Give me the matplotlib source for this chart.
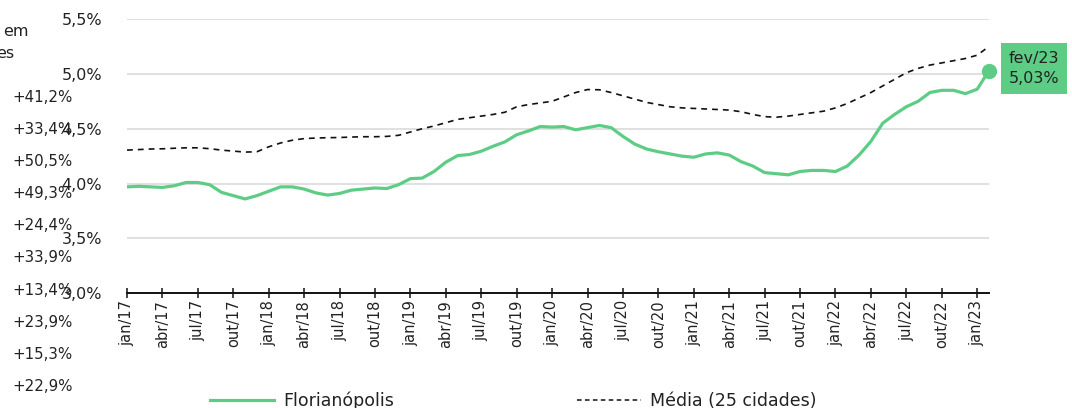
import matplotlib
matplotlib.use("Agg")
import matplotlib.pyplot as plt
from matplotlib.lines import Line2D

# ---- data (monthly, jan/17 .. fev/23) ----
months_pt = ['jan', 'fev', 'mar', 'abr', 'mai', 'jun',
             'jul', 'ago', 'set', 'out', 'nov', 'dez']
start_year = 17
floripa = [3.97, 3.975, 3.97, 3.965, 3.98, 4.01, 4.01, 3.99, 3.92, 3.89, 3.86, 3.89,
           3.93, 3.97, 3.97, 3.95, 3.915, 3.895, 3.91, 3.94, 3.95, 3.96, 3.955, 3.99,
           4.045, 4.05, 4.11, 4.195, 4.255, 4.265, 4.295, 4.34, 4.38, 4.445, 4.48, 4.52,
           4.515, 4.52, 4.49, 4.51, 4.53, 4.51, 4.43, 4.36, 4.315, 4.29, 4.27, 4.25,
           4.24, 4.27, 4.28, 4.26, 4.20, 4.16, 4.10, 4.09, 4.08, 4.11, 4.12, 4.12,
           4.11, 4.16, 4.26, 4.385, 4.55, 4.63, 4.70, 4.75, 4.83, 4.85, 4.85, 4.82,
           4.86, 5.03]
media = [4.305, 4.31, 4.315, 4.317, 4.322, 4.326, 4.326, 4.318, 4.305, 4.296, 4.287, 4.29,
         4.335, 4.37, 4.395, 4.41, 4.415, 4.418, 4.42, 4.424, 4.427, 4.427, 4.43, 4.44,
         4.47, 4.50, 4.525, 4.555, 4.585, 4.60, 4.615, 4.63, 4.65, 4.70, 4.72, 4.735,
         4.75, 4.79, 4.83, 4.857, 4.855, 4.83, 4.80, 4.77, 4.74, 4.72, 4.70, 4.69,
         4.685, 4.68, 4.675, 4.67, 4.655, 4.63, 4.61, 4.605, 4.615, 4.63, 4.645, 4.66,
         4.69, 4.73, 4.78, 4.83, 4.89, 4.95, 5.01, 5.05, 5.08, 5.10, 5.12, 5.14,
         5.17, 5.25]
yticks = [3.0, 3.5, 4.0, 4.5, 5.0, 5.5]
side_labels = ['+41,2%', '+33,4%', '+50,5%', '+49,3%', '+24,4%',
               '+33,9%', '+13,4%', '+23,9%', '+15,3%', '+22,9%']
last_label = 'fev/23\n5,03%'

GREEN = '#5dcd85'
TXT = '#222222'
plt.rcParams['font.family'] = ['DejaVu Sans']

x = list(range(len(floripa)))
fig = plt.figure(figsize=(10.72, 4.08), dpi=100)
ax = fig.add_axes([127 / 1072, 1 - 293.3 / 408, (989 - 127) / 1072, (293.3 - 19) / 408])

ax.plot(x, media, color='#111111', lw=1.2, linestyle=(0, (3.5, 3)))
ax.plot(x, floripa, color=GREEN, lw=2.3, solid_capstyle='round')
ax.plot(x[-1], floripa[-1], 'o', color=GREEN, ms=10, clip_on=False, zorder=5)

ax.annotate(last_label, xy=(x[-1], floripa[-1]), xytext=(32.4, 1.5),
            textcoords='offset points', ha='center', va='center',
            fontsize=11.5, color=TXT, linespacing=1.4,
            bbox=dict(boxstyle='square,pad=0.5', fc=GREEN, ec='none'),
            annotation_clip=False)

ax.set_xlim(0, len(floripa) - 1)
ax.set_ylim(3.0, 5.5)
ax.set_yticks(yticks)
ax.set_yticklabels([('%.1f%%' % v).replace('.', ',') for v in yticks])
ticks = list(range(0, len(floripa), 3))
ax.set_xticks(ticks)
ax.set_xticklabels(['%s/%d' % (months_pt[t % 12], start_year + t // 12) for t in ticks],
                   rotation=90)
ax.grid(axis='y', color='#dddddd', lw=1.3)
ax.set_axisbelow(True)
for s in ['left', 'right', 'top']:
    ax.spines[s].set_visible(False)
ax.spines['bottom'].set_color('#111111')
ax.spines['bottom'].set_linewidth(1.4)
ax.tick_params(axis='y', length=0, pad=18, labelsize=11.5, labelcolor=TXT)
ax.tick_params(axis='x', direction='inout', length=7.5, width=1.1, color='#111111',
               pad=1, labelsize=10.5, labelcolor=TXT)

# clipped texts on the left edge
fig.text(29 / 1072, 1 - 31 / 408, 'em', ha='right', va='center', fontsize=11.5, color=TXT)
fig.text(14 / 1072, 1 - 53 / 408, 'es', ha='right', va='center', fontsize=11.5, color=TXT)
for i, lab in enumerate(side_labels):
    fig.text(12 / 1072, 1 - (97 + 32.2 * i) / 408, lab, ha='left', va='center',
             fontsize=10.8, color=TXT)

# legend
h1 = Line2D([], [], color=GREEN, lw=2.3)
h2 = Line2D([], [], color='#111111', lw=1.1, linestyle=(0, (3, 2.2)))
for h, lab, xl in [(h1, 'Florianópolis', 210), (h2, 'Média (25 cidades)', 577)]:
    fig.legend([h], [lab], loc='center left', bbox_to_anchor=(xl / 1072, 7 / 408),
               frameon=False, fontsize=12.5, handlelength=3.7, handletextpad=0.5,
               borderpad=0, borderaxespad=0, labelcolor=TXT)

fig.savefig('out.png', dpi=100)
